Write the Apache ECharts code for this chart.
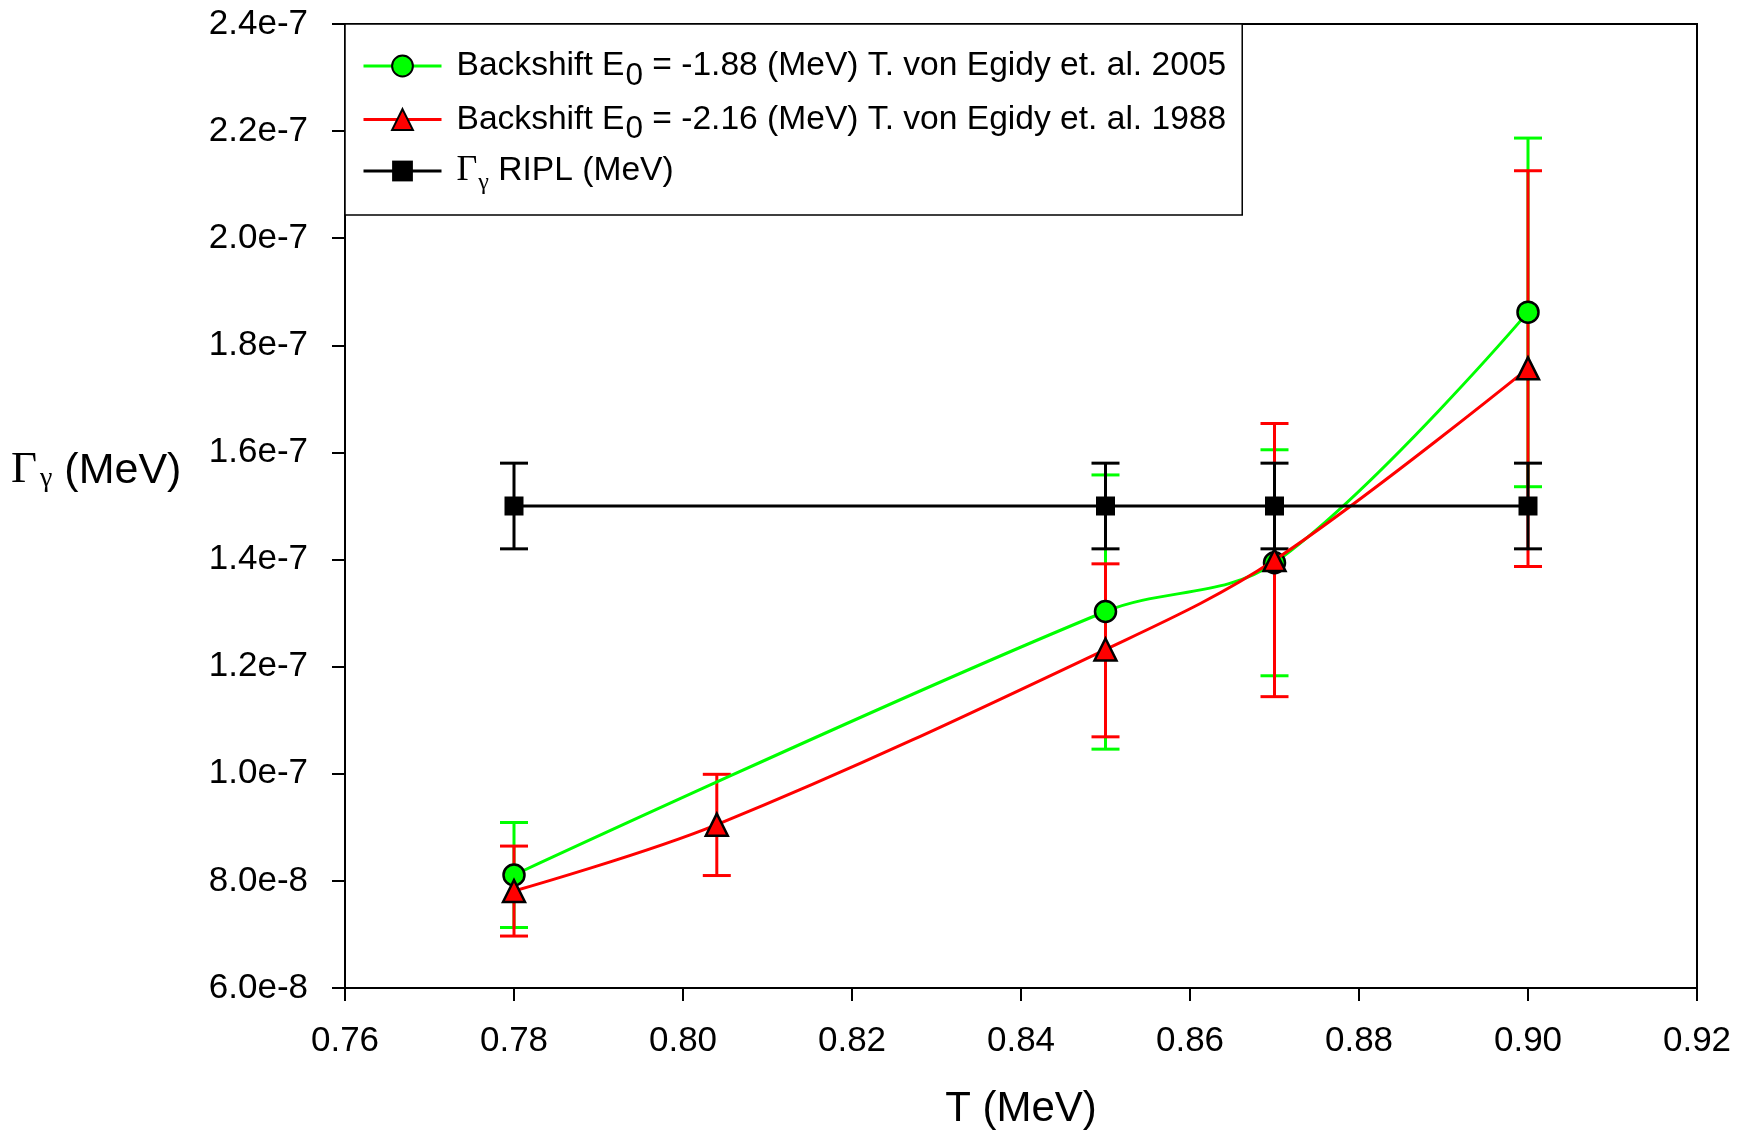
<!DOCTYPE html>
<html>
<head>
<meta charset="utf-8">
<script src="https://cdn.jsdelivr.net/npm/echarts@6/dist/echarts.min.js"></script>
<style>html,body{margin:0;padding:0;background:#fff;}#c{width:1739px;height:1131px;}</style>
</head>
<body>
<div id="c"></div>
<script>
// ---- data ----
var greenT  = [0.78, 0.85, 0.87, 0.90];
var greenY  = [8.11e-8, 1.303e-7, 1.394e-7, 1.862e-7];
var greenLo = [7.13e-8, 1.046e-7, 1.183e-7, 1.536e-7];
var greenHi = [9.09e-8, 1.558e-7, 1.605e-7, 2.187e-7];

var redT  = [0.78, 0.804, 0.85, 0.87, 0.90];
var redY  = [7.81e-8, 9.05e-8, 1.232e-7, 1.399e-7, 1.757e-7];
var redLo = [6.97e-8, 8.10e-8, 1.069e-7, 1.144e-7, 1.387e-7];
var redHi = [8.65e-8, 9.99e-8, 1.392e-7, 1.654e-7, 2.126e-7];

var riplT  = [0.78, 0.85, 0.87, 0.90];
var riplY  = [1.50e-7, 1.50e-7, 1.50e-7, 1.50e-7];
var riplLo = [1.42e-7, 1.42e-7, 1.42e-7, 1.42e-7];
var riplHi = [1.58e-7, 1.58e-7, 1.58e-7, 1.58e-7];

var seriesNames = [
  'Backshift E0 = -1.88 (MeV) T. von Egidy et. al. 2005',
  'Backshift E0 = -2.16 (MeV) T. von Egidy et. al. 1988',
  'Gamma RIPL (MeV)'
];
var xTicks = {min: 0.76, max: 0.92, interval: 0.02};
var yTicks = {min: 6e-8, max: 2.4e-7, interval: 2e-8};

function pts(xs, ys) { return xs.map(function (x, i) { return [x, ys[i]]; }); }
function bars(xs, lo, hi) { return xs.map(function (x, i) { return [x, lo[i], hi[i]]; }); }

function errRender(color) {
  return function (params, api) {
    var x = api.value(0), lo = api.value(1), hi = api.value(2);
    var pLo = api.coord([x, lo]), pHi = api.coord([x, hi]);
    var hw = 14;
    var st = {stroke: color, lineWidth: 3};
    return {
      type: 'group',
      children: [
        {type: 'line', shape: {x1: pLo[0], y1: pLo[1], x2: pHi[0], y2: pHi[1]}, style: st},
        {type: 'line', shape: {x1: pLo[0] - hw, y1: pLo[1], x2: pLo[0] + hw, y2: pLo[1]}, style: st},
        {type: 'line', shape: {x1: pHi[0] - hw, y1: pHi[1], x2: pHi[0] + hw, y2: pHi[1]}, style: st}
      ]
    };
  };
}

var F = '"Liberation Sans", Arial, sans-serif';
var S = '"Liberation Serif", "Times New Roman", serif';

var chart = echarts.init(document.getElementById('c'));
chart.setOption({
  animation: false,
  backgroundColor: '#fff',
  grid: {left: 345, top: 24, right: 42, bottom: 143, show: true, borderColor: '#000', borderWidth: 2,
         backgroundColor: 'transparent', containLabel: false, outerBoundsMode: 'none'},
  xAxis: {
    type: 'value', min: xTicks.min, max: xTicks.max, interval: xTicks.interval,
    name: 'T (MeV)', nameLocation: 'middle', nameGap: 100,
    nameTextStyle: {fontFamily: F, fontSize: 42, color: '#000'},
    axisLine: {lineStyle: {color: '#000', width: 2}},
    axisTick: {length: 13, lineStyle: {color: '#000', width: 2}},
    axisLabel: {margin: 36, fontFamily: F, fontSize: 35, color: '#000', formatter: function (v) { return v.toFixed(2); }},
    splitLine: {show: false}
  },
  yAxis: {
    type: 'value', min: yTicks.min, max: yTicks.max, interval: yTicks.interval,
    axisLine: {lineStyle: {color: '#000', width: 2}},
    axisTick: {length: 13, lineStyle: {color: '#000', width: 2}},
    axisLabel: {margin: 37, fontFamily: F, fontSize: 35, color: '#000', formatter: function (v) { return v.toExponential(1); }},
    splitLine: {show: false}
  },
  graphic: [{
    type: 'text', left: 11, top: 439, z: 100,
    style: {
      text: '{g|Γ}{s|γ}{n| (MeV)}',
      rich: {
        g: {fontFamily: S, fontSize: 45, color: '#000', lineHeight: 48, verticalAlign: 'bottom'},
        s: {fontFamily: S, fontSize: 28, color: '#000', padding: [26, 0, 0, 3], lineHeight: 48, verticalAlign: 'bottom'},
        n: {fontFamily: F, fontSize: 43, color: '#000', lineHeight: 48, verticalAlign: 'bottom'}
      }
    }
  }],
  legend: {
    left: 345, top: 24, orient: 'vertical',
    itemWidth: 78, itemHeight: 26, itemGap: 1.5,
    padding: [16, 16, 20, 17],
    borderColor: '#000', borderWidth: 1.5, backgroundColor: '#fff',
    lineStyle: {width: 3},
    data: seriesNames,
    formatter: function (name) {
      if (name === seriesNames[0]) return '{n|Backshift E}{sub|0}{n| = -1.88 (MeV) T. von Egidy et. al. 2005}';
      if (name === seriesNames[1]) return '{n|Backshift E}{sub|0}{n| = -2.16 (MeV) T. von Egidy et. al. 1988}';
      return '{g|Γ}{gs|γ}{n| RIPL (MeV)}';
    },
    textStyle: {
      color: '#000', padding: [0, 0, 0, 10],
      rich: {
        n: {fontFamily: F, fontSize: 33.6, color: '#000', lineHeight: 38},
        sub: {fontFamily: F, fontSize: 31.5, color: '#000', lineHeight: 18, padding: [20, 0, 0, 1]},
        g: {fontFamily: S, fontSize: 36, color: '#000', lineHeight: 38},
        gs: {fontFamily: S, fontSize: 24, color: '#000', lineHeight: 14, padding: [24, 0, 0, 1]}
      }
    }
  },
  series: [
    {type: 'custom', name: 'errG', data: bars(greenT, greenLo, greenHi), renderItem: errRender('#00ff00'), encode: {x: 0, y: [1, 2]}, z: 2, silent: true},
    {type: 'custom', name: 'errR', data: bars(redT, redLo, redHi), renderItem: errRender('#ff0000'), encode: {x: 0, y: [1, 2]}, z: 3, silent: true},
    {type: 'custom', name: 'errB', data: bars(riplT, riplLo, riplHi), renderItem: errRender('#000000'), encode: {x: 0, y: [1, 2]}, z: 4, silent: true},
    {
      type: 'line', name: seriesNames[0], data: pts(greenT, greenY), smooth: 0.35, z: 5,
      symbol: 'circle', symbolSize: 21,
      lineStyle: {color: '#00ff00', width: 3},
      itemStyle: {color: '#00ff00', borderColor: '#000', borderWidth: 2.5}
    },
    {
      type: 'line', name: seriesNames[1], data: pts(redT, redY), smooth: 0.35, z: 6,
      symbol: 'triangle', symbolSize: 22,
      lineStyle: {color: '#ff0000', width: 3},
      itemStyle: {color: '#ff0000', borderColor: '#000', borderWidth: 2.5}
    },
    {
      type: 'line', name: seriesNames[2], data: pts(riplT, riplY), z: 7,
      symbol: 'rect', symbolSize: 19,
      lineStyle: {color: '#000', width: 3},
      itemStyle: {color: '#000', borderColor: '#000', borderWidth: 0}
    }
  ]
});
</script>
</body>
</html>
